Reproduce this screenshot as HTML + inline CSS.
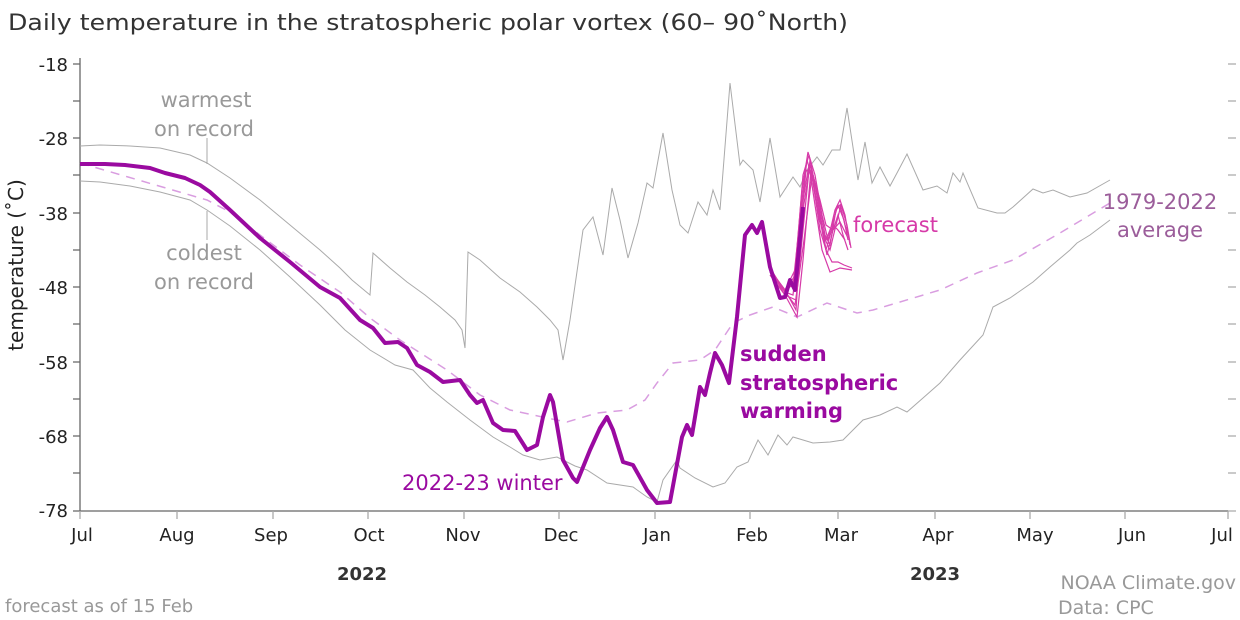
<!DOCTYPE html>
<html><head><meta charset="utf-8"><style>
html,body{margin:0;padding:0;background:#fff;}
svg{display:block;font-family:"DejaVu Sans","Liberation Sans",sans-serif;}
</style></head><body>
<svg width="1240" height="620" viewBox="0 0 1240 620" xmlns="http://www.w3.org/2000/svg">
<text x="8" y="30" font-size="22" fill="#333" textLength="840" lengthAdjust="spacingAndGlyphs">Daily temperature in the stratospheric polar vortex (60– 90˚North)</text>

<!-- axes -->
<g stroke="#666" stroke-width="1.3" fill="none">
<line x1="80" y1="58" x2="80" y2="511"/>
<line x1="80" y1="511" x2="1228" y2="511"/>
<path d="M73 64H80M73 101H80M73 138H80M73 175H80M73 213H80M73 250H80M73 287H80M73 324H80M73 362H80M73 399H80M73 436H80M73 473H80M73 511H80"/>
</g>
<g stroke="#aaa" stroke-width="1.3">
<path d="M1228 64H1236M1228 101H1236M1228 138H1236M1228 175H1236M1228 213H1236M1228 250H1236M1228 287H1236M1228 324H1236M1228 362H1236M1228 399H1236M1228 436H1236M1228 473H1236M1228 511H1236"/>
<path d="M80 511V519M177 511V519M273 511V519M368 511V519M464 511V519M559 511V519M655 511V519M750 511V519M838 511V519M935 511V519M1030 511V519M1125 511V519M1228 511V519"/>
</g>
<g font-size="18" fill="#222" text-anchor="end">
<text x="68" y="71">-18</text><text x="68" y="145">-28</text><text x="68" y="220">-38</text><text x="68" y="294">-48</text><text x="68" y="369">-58</text><text x="68" y="443">-68</text><text x="68" y="517">-78</text>
</g>
<text transform="translate(23,265) rotate(-90)" font-size="20" fill="#222" text-anchor="middle">temperature (˚C)</text>
<g font-size="18" fill="#222" text-anchor="middle">
<text x="82" y="541">Jul</text><text x="177" y="541">Aug</text><text x="271" y="541">Sep</text><text x="369" y="541">Oct</text><text x="463" y="541">Nov</text><text x="561" y="541">Dec</text><text x="657" y="541">Jan</text><text x="752" y="541">Feb</text><text x="841" y="541">Mar</text><text x="938" y="541">Apr</text><text x="1035" y="541">May</text><text x="1132" y="541">Jun</text><text x="1222" y="541">Jul</text>
<text x="362" y="580" font-weight="bold" fill="#333">2022</text><text x="935" y="580" font-weight="bold" fill="#333">2023</text>
</g>

<!-- warmest -->
<polyline fill="none" stroke="#aaa" stroke-width="1" points="80,146 100,145 130,146 160,148 190,155 207,163 230,178 260,200 290,225 320,250 340,268 352,280 370,295 373,253 390,268 407,282 425,295 440,307 455,320 462,330 465,348 468,252 480,260 500,278 520,292 537,307 550,320 558,330 563,360 570,320 583,230 593,217 603,255 612,188 620,220 628,258 638,223 647,183 653,188 663,133 672,190 680,225 688,233 698,202 707,215 713,190 720,210 730,83 740,165 743,160 753,170 760,202 770,138 780,197 793,177 800,187 807,170 817,157 823,165 832,150 840,150 847,108 858,180 865,142 872,183 880,167 890,186 897,173 907,154 923,190 937,186 947,193 953,173 960,182 963,173 978,208 997,213 1005,213 1013,207 1033,189 1043,193 1053,190 1070,197 1087,193 1110,180"/>
<!-- coldest -->
<polyline fill="none" stroke="#aaa" stroke-width="1" points="80,181 100,182 130,186 160,192 190,200 207,210 230,226 260,250 290,277 320,305 345,330 370,350 395,365 413,370 430,388 447,402 470,420 493,437 510,447 523,455 540,460 557,457 575,466 587,470 607,483 633,487 647,497 657,502 663,480 677,460 680,468 695,478 713,487 725,483 737,467 748,462 758,440 768,455 778,435 787,445 793,437 813,443 830,442 843,440 863,420 880,415 897,407 907,412 923,398 940,383 960,360 983,335 993,307 1010,298 1033,282 1050,267 1070,250 1077,243 1090,235 1110,220"/>
<!-- leader lines -->
<line x1="207" y1="138" x2="207" y2="164" stroke="#aaa" stroke-width="1"/>
<line x1="207" y1="211" x2="207" y2="240" stroke="#aaa" stroke-width="1"/>
<!-- average -->
<polyline fill="none" stroke="#d99de0" stroke-width="1.5" stroke-dasharray="9,7" points="80,163 207,200 230,212 260,235 300,265 340,292 370,318 400,340 447,370 480,395 510,410 547,418 567,422 597,413 627,410 645,400 657,383 673,363 700,360 715,350 733,323 750,315 773,307 797,317 827,303 857,313 873,310 900,302 940,290 977,273 1013,260 1060,233 1110,203"/>
<!-- forecasts -->
<g fill="none" stroke="#d63aa8" stroke-width="1.2">
<polyline points="770,270 785,290 795,270 802,190 808,152 815,175 822,215 828,240 835,210 840,200 845,215 850,245"/>
<polyline points="770,272 785,292 795,275 803,175 809,155 816,190 823,235 830,250 836,225 841,205 847,225 851,248"/>
<polyline points="770,275 785,295 796,300 803,230 810,160 818,200 826,250 832,262 838,262 844,265 852,268"/>
<polyline points="770,270 785,295 797,317 803,260 811,170 818,215 826,240 832,225 838,205 844,220 848,240"/>
<polyline points="770,268 785,292 795,305 804,240 812,175 820,220 827,255 833,230 838,215 843,235 848,250"/>
<polyline points="770,270 785,290 793,285 802,200 807,160 814,185 820,230 826,250 833,225 838,230 845,240"/>
<polyline points="770,272 785,290 796,310 803,200 809,165 815,205 822,250 830,272 840,268 852,270"/>
<polyline points="770,270 785,290 795,280 803,210 810,165 818,195 825,235 830,245 836,210 840,205 845,225 849,237"/>
<polyline points="770,268 785,292 793,295 800,235 806,170 813,175 820,200 826,225 833,230 840,222 848,238"/>
</g>
<!-- main -->
<polyline fill="none" stroke="#9a0aa0" stroke-width="4" stroke-linejoin="round" points="80,164 105,164 125,165 150,168 165,173 185,178 200,185 210,192 230,210 260,238 290,262 320,287 340,298 360,320 373,328 385,343 398,342 407,348 417,365 430,372 443,382 460,380 470,395 477,403 483,400 493,423 503,430 515,431 527,450 537,445 543,417 550,395 553,402 563,460 573,478 577,482 590,450 600,428 607,417 613,430 623,462 633,465 647,490 657,503 670,502 682,437 687,425 692,435 700,387 705,395 710,373 715,353 722,365 729,383 737,317 745,235 752,225 757,233 762,222 770,267 780,298 785,297 790,280 795,290 803,207"/>

<!-- annotations -->
<g font-size="21" fill="#999" text-anchor="middle">
<text x="206" y="107">warmest</text><text x="204" y="136">on record</text>
<text x="204" y="260">coldest</text><text x="204" y="289">on record</text>
</g>
<text x="853" y="232" font-size="21" fill="#d63aa8">forecast</text>
<text x="1160" y="209" font-size="21" fill="#9b5d9a" text-anchor="middle">1979-2022</text>
<text x="1160" y="237" font-size="21" fill="#9b5d9a" text-anchor="middle">average</text>
<g font-size="21" font-weight="bold" fill="#9a0aa0">
<text x="740" y="361">sudden</text><text x="740" y="390">stratospheric</text><text x="740" y="418">warming</text>
</g>
<text x="402" y="490" font-size="21" fill="#9a0aa0">2022-23 winter</text>
<text x="1236" y="589" font-size="19" fill="#999" text-anchor="end">NOAA Climate.gov</text>
<text x="1058" y="614" font-size="19" fill="#999">Data: CPC</text>
<text x="5" y="612" font-size="18" fill="#999">forecast as of 15 Feb</text>
</svg>
</body></html>
